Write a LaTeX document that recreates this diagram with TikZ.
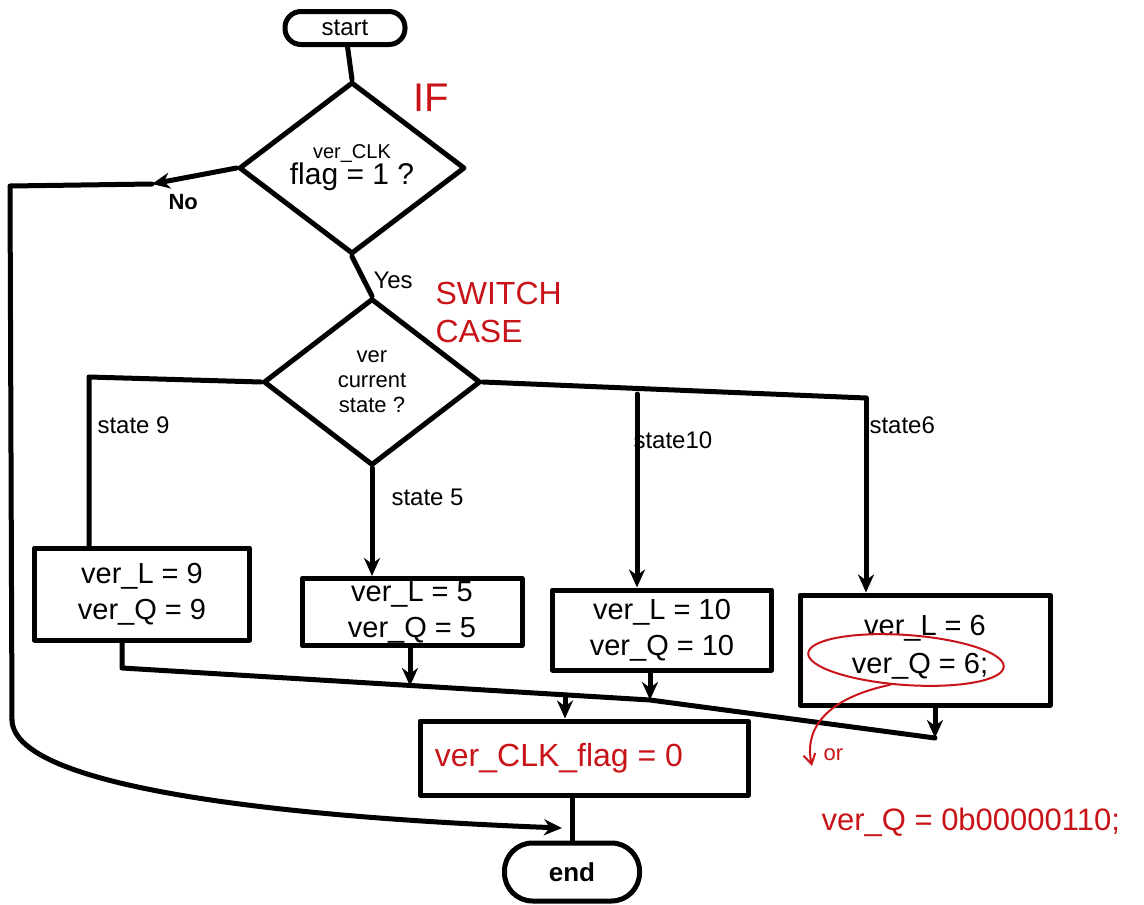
\documentclass[tikz,border=0pt]{standalone}
\usepackage{fontspec}
\setmainfont{Liberation Sans}
\usetikzlibrary{shapes.geometric,arrows.meta,calc}
\definecolor{mred}{RGB}{200,20,25}
\tikzset{
  ln/.style={line width=5pt, black, line cap=round, line join=round},
  arr/.style={ln, -{Stealth[length=18pt,width=16pt]}},
  box/.style={ln, draw, rectangle, inner sep=0pt, align=center, font=\fontsize{29}{36}\selectfont},
  dia/.style={ln, draw, diamond, inner sep=0pt, align=center},
  term/.style={ln, draw, rectangle, rounded corners=16pt, inner sep=0pt, font=\fontsize{24}{28}\selectfont},
  lbl/.style={font=\fontsize{24}{28}\selectfont, anchor=west},
  redtxt/.style={text=mred, align=left, anchor=west},
  redarr/.style={line width=2pt, mred, -{Straight Barb[length=10pt,width=12pt]}}
}
\begin{document}
\begin{tikzpicture}[x=1pt,y=-1pt]
\useasboundingbox (0,0) rectangle (1144,905);
% nodes
\node[term, minimum width=120, minimum height=33] (start) at (345,28) {start};
\node[dia, minimum width=226, minimum height=172, font=\fontsize{20}{26}\selectfont] (d1) at (352,168)
  {ver\_CLK\\\fontsize{30}{32}\selectfont flag = 1 ?};
\node[dia, minimum width=217, minimum height=167, font=\fontsize{22}{25}\selectfont] (d2) at (372,382)
  {ver\\current\\state ?};
\node[box, minimum width=215, minimum height=92] (b1) at (142,594) {ver\_L = 9\\ver\_Q = 9};
\node[box, minimum width=220, minimum height=67] (b2) at (412,612) {ver\_L = 5\\ver\_Q = 5};
\node[box, minimum width=219, minimum height=80] (b3) at (662,630) {ver\_L = 10\\ver\_Q = 10};
\node[box, minimum width=250, minimum height=110] (b4) at (925,650) {\\[-22pt]ver\_L = 6\hspace*{40pt}\\[2pt]ver\_Q = 6;\hspace*{10pt}};
\node[box, minimum width=328, minimum height=74, text=mred, font=\fontsize{32}{36}\selectfont] (fb) at (584,758) {ver\_CLK\_flag = 0\hspace*{50pt}};
\node[term, minimum width=135, minimum height=58, rounded corners=28pt, font=\bfseries\fontsize{26}{28}\selectfont] (end) at (572,872) {end};
% red annotations
\node[redtxt, font=\fontsize{40}{42}\selectfont] (if) at (410,98) {IF};
\node[redtxt, font=\fontsize{32}{38}\selectfont] (sw) at (432,312) {SWITCH\\CASE};
\node[draw=mred, line width=2pt, ellipse, minimum width=196, minimum height=50, rotate=-4, inner sep=0pt] (ell) at (906,660) {};
\coordinate (orEnd) at (812,766);
\node[redtxt, font=\fontsize{22}{24}\selectfont] (or) at (820,755) {or};
\node[redtxt, font=\fontsize{31}{36}\selectfont] (alt) at (818,822) {ver\_Q = 0b00000110;};
% labels
\node[lbl, font=\bfseries\fontsize{22}{24}\selectfont] (no) at (165,202) {No};
\node[lbl] (yes) at (370,280) {Yes};
\node[lbl] (s9) at (94,425) {state 9};
\node[lbl] (s5) at (388,497) {state 5};
\node[lbl] (s10) at (630,440) {state10};
\node[lbl] (s6) at (866,425) {state6};
% connector coordinates
\coordinate (noArr) at (152,184);
\coordinate (nL) at (10,186);
\coordinate (nB) at (12,720);
\coordinate (endIn) at (562,828);
\coordinate (sL) at (89,377);
\coordinate (sR) at (866,398);
\coordinate (j3) at (637,394);
\coordinate (m1) at (122,668);
\coordinate (m2) at (650,700);
\coordinate (m3) at (935,738);
% connectors
\draw[ln] (start) -- (d1.north);
\draw[arr] (d1.west) -- (noArr);
\draw[ln] (noArr) -- (nL) -- (nB);
\draw[arr] (nB) .. controls (14,790) and (300,818) .. (endIn);
\draw[ln] (d1.south) -- (d2.north);
\draw[ln] (d2.west) -- (sL) -- (sL |- b1.north);
\draw[arr] (d2.south) -- (d2.south |- b2.north);
\draw[ln] (d2.east) -- (sR);
\draw[arr] (j3) -- (j3 |- b3.north);
\draw[arr] (sR) -- (sR |- b4.north);
\draw[ln] (m1 |- b1.south) -- (m1) -- (m2) -- (m3);
\draw[arr] (410,0 |- b2.south) -- (410,686);
\draw[arr] (m2 |- b3.south) -- (m2);
\draw[arr] (m3 |- b4.south) -- (m3);
\draw[arr] (565,695) -- (565,0 |- fb.north);
\draw[ln] (fb.south -| end.north) -- (end.north);
\draw[redarr] (ell.-118) .. controls (818,700) and (805,735) .. (orEnd);
\end{tikzpicture}
\end{document}
